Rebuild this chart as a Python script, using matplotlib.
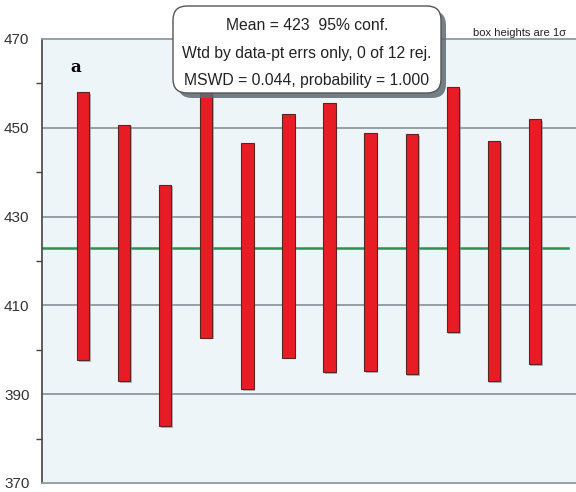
import numpy as np
import matplotlib
matplotlib.use("Agg")
import matplotlib.pyplot as plt
from matplotlib.patches import FancyBboxPatch
from matplotlib.transforms import IdentityTransform
import matplotlib.patheffects as pe

# analysis number, age and 1-sigma error
spots = np.arange(1, 13)
ages = [427.9, 421.8, 410.0, 430.6, 418.9, 425.6, 425.2, 422.0, 421.5, 431.5, 420.0, 424.3]
errs = [30.2, 28.9, 27.2, 27.9, 27.7, 27.4, 30.3, 26.8, 27.0, 27.6, 27.0, 27.6]
mean_age = 423
y_ticks = [370, 390, 410, 430, 450, 470]
stats_lines = ["Mean = 423  95% conf.",
               "Wtd by data-pt errs only, 0 of 12 rej.",
               "MSWD = 0.044, probability = 1.000"]

plt.rcParams['font.family'] = ['Liberation Sans', 'DejaVu Sans']

fig = plt.figure(figsize=(5.76, 4.92), dpi=100)
fig.patch.set_facecolor('white')
ax = fig.add_axes([42/576, 9/492, 1 - 42/576, (483 - 39)/492])
ax.set_facecolor('#eef5f9')

ax.set_xlim(0, 13)
ax.set_ylim(370, 470)

# gridlines at the labelled values
for y in y_ticks[1:-1]:
    ax.axhline(y, color='#8e9aa0', lw=1.3, zorder=1)

ax.axhline(mean_age, xmax=0.985, color='#2a9150', lw=1.8, zorder=2)

ages = np.array(ages)
errs = np.array(errs)
ax.bar(spots, 2*errs, bottom=ages - errs, width=0.3,
       color='#e81c24', edgecolor='#5a2424', linewidth=0.8, zorder=3,
       path_effects=[pe.SimplePatchShadow(offset=(1.2, -1.2), shadow_rgbFace='#7f8a90', alpha=0.6),
                     pe.Normal()])

ax.set_yticks(y_ticks)
ax.set_yticks(np.arange(380, 470, 20), minor=True)
ax.set_xticks([])
ax.tick_params(axis='y', which='major', length=0, pad=9, labelsize=11, labelcolor='#333333')
ax.tick_params(axis='y', which='minor', length=4, width=1, color='#444444', direction='out')

ax.spines['right'].set_visible(False)
ax.spines['left'].set_color('#444444')
ax.spines['left'].set_linewidth(1.2)
ax.spines['bottom'].set_color('#8e9aa0')
ax.spines['bottom'].set_linewidth(1.3)
ax.spines['top'].set_color('#8e9aa0')
ax.spines['top'].set_linewidth(1.3)

ax.text(0.053, 0.955, 'a', transform=ax.transAxes, family='DejaVu Serif',
        fontweight='bold', fontsize=12, va='top', ha='left')

fig.text(566/576, 1 - 36/492, 'box heights are 1\u03c3', ha='right', va='baseline',
         fontsize=8, color='#222222')

# statistics box with drop shadow, in pixel coordinates
box_x, box_y, box_w, box_h = 173, 492 - 93, 268, 87
shadow = FancyBboxPatch((box_x + 5, box_y - 5), box_w, box_h,
                        boxstyle='round,pad=0,rounding_size=14',
                        transform=IdentityTransform(), facecolor='#5e6b72',
                        edgecolor='none', alpha=0.85, zorder=10)
box = FancyBboxPatch((box_x, box_y), box_w, box_h,
                     boxstyle='round,pad=0,rounding_size=14',
                     transform=IdentityTransform(), facecolor='white',
                     edgecolor='#555555', linewidth=1.0, zorder=11)
fig.add_artist(shadow)
fig.add_artist(box)
for i, line in enumerate(stats_lines):
    fig.text(307/576, 1 - (26 + 27.5*i)/492, line, ha='center', va='center',
             fontsize=11.3, color='#222222', zorder=12)

fig.savefig('out.png', dpi=100)
